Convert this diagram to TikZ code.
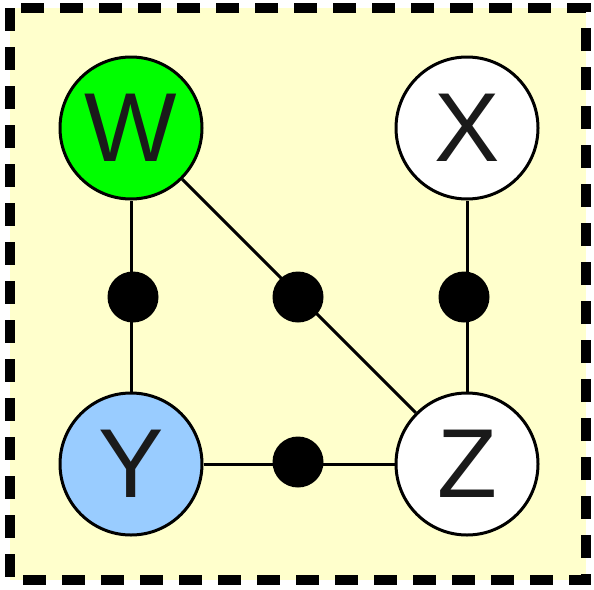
\documentclass[tikz,border=0pt]{standalone}
\usepackage{fontspec}
\setmainfont{Liberation Sans}
\definecolor{bgyellow}{HTML}{FFFFCC}
\definecolor{wgreen}{HTML}{00FF00}
\definecolor{yblue}{HTML}{99CCFF}
\definecolor{txtgray}{HTML}{1A1A1A}
\tikzset{
  vertex/.style={circle, draw=black, line width=3pt, minimum size=142pt, inner sep=0pt,
    font=\fontsize{98}{98}\selectfont, text=txtgray},
  dotnode/.style={circle, fill=black, minimum size=51pt, inner sep=0pt},
  edge/.style={line width=3pt, draw=black}
}
\begin{document}
\begin{tikzpicture}[x=1pt,y=-1pt]
\useasboundingbox (0,0) rectangle (594,589);
\draw[fill=bgyellow, line width=10pt, dash pattern=on 23pt off 16pt] (10,8) rectangle (586,580);
\node[vertex, fill=wgreen] (W) at (131,128) {W};
\node[vertex, fill=white] (X) at (467,128) {X};
\node[vertex, fill=yblue] (Y) at (131,464) {Y};
\node[vertex, fill=white] (Z) at (467,464) {Z};
\draw[edge] (W) -- (Y);
\draw[edge] (W) -- (Z);
\draw[edge] (X) -- (Z);
\draw[edge] (Y) -- (Z);
\node[dotnode] (d1) at (133,297) {};
\node[dotnode] (d2) at (298,297) {};
\node[dotnode] (d3) at (464,297) {};
\node[dotnode] (d4) at (298,462) {};
\end{tikzpicture}
\end{document}
